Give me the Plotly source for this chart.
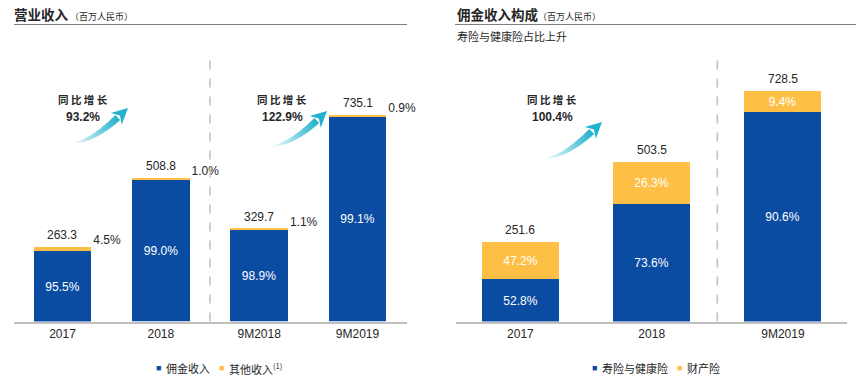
import math
import plotly.graph_objects as go

W, H = 864, 379

# ---------------- data ----------------
left_categories = ["2017", "2018", "9M2018", "9M2019"]
left_totals = [263.3, 508.8, 329.7, 735.1]
left_commission_pct = [95.5, 99.0, 98.9, 99.1]
left_other_pct = [4.5, 1.0, 1.1, 0.9]
left_growth = ["93.2%", "122.9%"]

right_categories = ["2017", "2018", "9M2019"]
right_totals = [251.6, 503.5, 728.5]
right_life_pct = [52.8, 73.6, 90.6]
right_pc_pct = [47.2, 26.3, 9.4]
right_growth = ["100.4%"]

BLUE = "#0B4CA3"
ORANGE = "#FDBF46"
GRAY = "#BFBFBF"
TXT = "#262626"
CJK = "Noto Sans CJK SC"
NUM = "Liberation Sans, Arial, sans-serif"


def px(x):
    return x / W


def py(y):
    return 1 - y / H


left_x = list(range(len(left_categories)))
right_x = list(range(len(right_categories)))
left_comm = [t * p / 100 for t, p in zip(left_totals, left_commission_pct)]
left_other = [t * p / 100 for t, p in zip(left_totals, left_other_pct)]
right_life = [t * p / 100 for t, p in zip(right_totals, right_life_pct)]
right_pc = [t * p / 100 for t, p in zip(right_totals, right_pc_pct)]

LBW = 0.585
RBW = 0.587

fig = go.Figure()

# left chart
fig.add_bar(x=left_x, y=left_comm, width=LBW, marker=dict(color=BLUE, line=dict(width=0)),
            text=[f"{v:.1f}%" for v in left_commission_pct], textposition="inside",
            insidetextanchor="middle", textangle=0,
            insidetextfont=dict(color="white", size=12, family=NUM),
            name="佣金收入", xaxis="x", yaxis="y", showlegend=False, hoverinfo="skip")
fig.add_bar(x=left_x, y=left_other, width=LBW, marker=dict(color=ORANGE, line=dict(width=0)),
            name="其他收入", xaxis="x", yaxis="y", showlegend=False, hoverinfo="skip")
fig.add_scatter(x=[v + LBW / 2 + 0.02 for v in left_x], y=left_totals, mode="text",
                text=[f"{v:.1f}%" for v in left_other_pct], cliponaxis=False,
                textposition="top right", textfont=dict(color=TXT, size=12, family=NUM),
                xaxis="x", yaxis="y", showlegend=False, hoverinfo="skip")

# right chart
fig.add_bar(x=right_x, y=right_life, width=RBW, marker=dict(color=BLUE, line=dict(width=0)),
            text=[f"{v:.1f}%" for v in right_life_pct], textposition="inside",
            insidetextanchor="middle", textangle=0,
            insidetextfont=dict(color="white", size=12, family=NUM),
            name="寿险与健康险", xaxis="x2", yaxis="y2", showlegend=False, hoverinfo="skip")
fig.add_bar(x=right_x, y=right_pc, width=RBW, marker=dict(color=ORANGE, line=dict(width=0)),
            text=[f"{v:.1f}%" for v in right_pc_pct], textposition="inside",
            insidetextanchor="middle", textangle=0,
            insidetextfont=dict(color="white", size=12, family=NUM),
            name="财产险", xaxis="x2", yaxis="y2", showlegend=False, hoverinfo="skip")

Y0 = py(321.5)
Y1 = py(40)

axis_common = dict(showline=True, linecolor=GRAY, linewidth=1.5, ticks="", showgrid=False,
                   zeroline=False, fixedrange=True,
                   tickfont=dict(color=TXT, size=12, family=NUM))
fig.update_layout(
    width=W, height=H, margin=dict(l=0, r=0, t=0, b=0),
    paper_bgcolor="white", plot_bgcolor="white",
    barmode="stack", bargap=0,
    xaxis=dict(domain=[px(14), px(407)], range=[-0.493, 3.503], tickvals=left_x,
               ticktext=left_categories, anchor="y", **axis_common),
    yaxis=dict(domain=[Y0, Y1], range=[0, 1000], visible=False, fixedrange=True),
    xaxis2=dict(domain=[px(456), px(847)], range=[-0.491, 2.488], tickvals=right_x,
                ticktext=right_categories, anchor="y2", **axis_common),
    yaxis2=dict(domain=[Y0, Y1], range=[0, 888], visible=False, fixedrange=True),
)

shapes = []
# dashed separators
shapes.append(dict(type="line", xref="x", yref="paper", x0=1.5, x1=1.5, y0=Y0, y1=py(59),
                   line=dict(color=GRAY, width=1.5, dash="dash")))
shapes.append(dict(type="line", xref="x2", yref="paper", x0=1.5, x1=1.5, y0=Y0, y1=py(59),
                   line=dict(color=GRAY, width=1.5, dash="dash")))
# title underlines
shapes.append(dict(type="line", xref="paper", yref="paper", x0=px(14), x1=px(407), y0=py(24.5),
                   y1=py(24.5), line=dict(color="#7F7F7F", width=1)))
shapes.append(dict(type="line", xref="paper", yref="paper", x0=px(455), x1=px(856), y0=py(24.5),
                   y1=py(24.5), line=dict(color="#7F7F7F", width=1)))


def arrow_shapes(tail, tip, head_len=14, head_half=8, body_half=3.5, n=20,
                 c0=(235, 249, 252), c1=(34, 178, 205), ang_deg=43):
    tx, ty = tail
    ax, ay = tip
    ang = math.radians(ang_deg)
    d = (math.cos(ang), -math.sin(ang))
    B = (ax - head_len * d[0], ay - head_len * d[1])
    k = (ty - 2 - B[1]) / (-d[1])
    C = (B[0] - k * d[0], B[1] - k * d[1])
    T = (tx, ty)

    def P(s):
        return ((1 - s) ** 2 * T[0] + 2 * (1 - s) * s * C[0] + s ** 2 * B[0],
                (1 - s) ** 2 * T[1] + 2 * (1 - s) * s * C[1] + s ** 2 * B[1])

    def N(s):
        tx_ = 2 * (1 - s) * (C[0] - T[0]) + 2 * s * (B[0] - C[0])
        ty_ = 2 * (1 - s) * (C[1] - T[1]) + 2 * s * (B[1] - C[1])
        L = math.hypot(tx_, ty_)
        return (-ty_ / L, tx_ / L)

    def wd(s):
        return body_half * (s ** 0.7)

    out = []
    for i in range(n):
        s0 = i / n
        s1 = min(1.0, (i + 1.15) / n)
        p0, p1 = P(s0), P(s1)
        n0, n1 = N(s0), N(s1)
        w0, w1 = wd(s0), wd(s1)
        pts = [(p0[0] + w0 * n0[0], p0[1] + w0 * n0[1]),
               (p1[0] + w1 * n1[0], p1[1] + w1 * n1[1]),
               (p1[0] - w1 * n1[0], p1[1] - w1 * n1[1]),
               (p0[0] - w0 * n0[0], p0[1] - w0 * n0[1])]
        sm = (i + 0.5) / n
        f = sm ** 1.2
        col = tuple(int(round(c0[j] + (c1[j] - c0[j]) * f)) for j in range(3))
        path = "M " + " L ".join(f"{px(x):.5f},{py(y):.5f}" for x, y in pts) + " Z"
        out.append(dict(type="path", xref="paper", yref="paper", path=path,
                        fillcolor=f"rgb{col}", line=dict(width=0)))
    nb = (-d[1], d[0])
    inner = (B[0] + 3 * d[0], B[1] + 3 * d[1])
    hp = [(B[0] + head_half * nb[0] - 2 * d[0], B[1] + head_half * nb[1] - 2 * d[1]),
          (ax, ay),
          (B[0] - head_half * nb[0] - 2 * d[0], B[1] - head_half * nb[1] - 2 * d[1]),
          inner]
    path = "M " + " L ".join(f"{px(x):.5f},{py(y):.5f}" for x, y in hp) + " Z"
    out.append(dict(type="path", xref="paper", yref="paper", path=path,
                    fillcolor=f"rgb{c1}", line=dict(width=0)))
    return out


shapes += arrow_shapes((73, 143), (128, 108))
shapes += arrow_shapes((272, 146), (327, 111))
shapes += arrow_shapes((547, 158), (602, 122))
fig.update_layout(shapes=shapes)

ann = []

# total labels above bars (data-anchored)
for xv, tv in zip(left_x, left_totals):
    ann.append(dict(x=xv, y=tv, xref="x", yref="y", text=f"{tv:.1f}", showarrow=False,
                    xanchor="center", yanchor="bottom", yshift=3,
                    font=dict(size=12, color=TXT, family=NUM)))
for xv, tv in zip(right_x, right_totals):
    ann.append(dict(x=xv, y=tv, xref="x2", yref="y2", text=f"{tv:.1f}", showarrow=False,
                    xanchor="center", yanchor="bottom", yshift=3,
                    font=dict(size=12, color=TXT, family=NUM)))


def add_text(x, y, text, size, color=TXT, family=CJK, xanchor="left"):
    ann.append(dict(x=px(x), y=py(y), xref="paper", yref="paper", text=text, showarrow=False,
                    xanchor=xanchor, yanchor="middle", font=dict(size=size, color=color, family=family)))


# titles
add_text(12, 14, "<b>营业收入</b><span style='font-size:9px'> （百万人民币）</span>", 13.5)
add_text(455, 14, "<b>佣金收入构成</b><span style='font-size:9px'>（百万人民币）</span>", 13.5)
add_text(455, 36, "寿险与健康险占比上升", 11)

# growth texts
for (cx, label) in [(83, left_growth[0]), (282, left_growth[1]), (552, right_growth[0])]:
    add_text(cx, 99, "<b>同 比 增 长</b>", 10.5, xanchor="center")
    add_text(cx, 116.5, f"<b>{label}</b>", 12, family=NUM, xanchor="center")


# legends
def legend_item(x, y, color, label):
    ann.append(dict(x=px(x), y=py(y), xref="paper", yref="paper", text="■", showarrow=False,
                    xanchor="center", yanchor="middle", font=dict(size=9, color=color, family=NUM)))
    add_text(x + 6, y, label, 11)


legend_item(158, 368, BLUE, "佣金收入")
legend_item(221, 368, ORANGE, "其他收入<sup>(1)</sup>")
legend_item(594, 368, BLUE, "寿险与健康险")
legend_item(679, 368, ORANGE, "财产险")

fig.update_layout(annotations=ann)

fig.write_html("out.html", config={"displayModeBar": False},
               post_script="document.body.style.margin='0';document.body.style.padding='0';document.body.style.overflow='hidden';")
